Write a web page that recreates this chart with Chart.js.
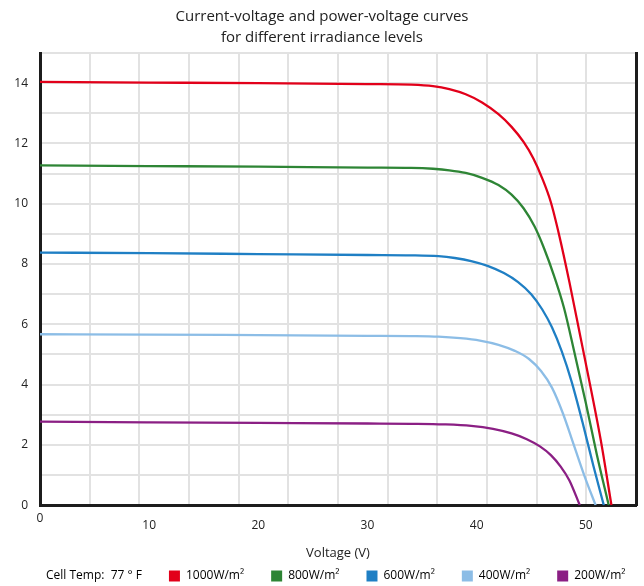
<!DOCTYPE html>
<html>
<head>
<meta charset="utf-8">
<script src="https://cdn.jsdelivr.net/npm/chart.js@4.4.1/dist/chart.umd.min.js"></script>
<style>
html,body{margin:0;padding:0;background:#fff;}
#wrap{width:644px;height:586px;}
</style>
</head>
<body>
<div id="wrap"><canvas id="c" width="644" height="586"></canvas></div>
<script>
// ---- data ----
const titleLines = ['Current-voltage and power-voltage curves', 'for different irradiance levels'];
const xTitle = 'Voltage (V)';
const cellTempLabel = 'Cell Temp:  77 ° F';
const seriesLabels = ['1000W/m²', '800W/m²', '600W/m²', '400W/m²', '200W/m²'];
const seriesColors = ['#e2001a', '#2e8535', '#1f7fc4', '#8cbde6', '#8b1f84'];

const v1000 = [0, 10, 20, 30, 34, 36, 37.5, 39, 40.5, 42, 43.2, 44.3, 45.2, 46.0, 46.8, 47.6, 48.5, 49.5, 50.5, 51.4, 52.35];
const i1000 = [14.04, 14.02, 14.0, 13.97, 13.95, 13.9, 13.8, 13.63, 13.36, 12.97, 12.55, 12.05, 11.5, 10.85, 10.05, 8.9, 7.4, 5.6, 3.8, 2.1, 0];

const v800 = [0, 10, 20, 30, 34, 36, 37.5, 39, 40.5, 42, 43.2, 44.3, 45.3, 46.2, 47.1, 48.0, 49.0, 50.0, 51.0, 52.1];
const i800 = [11.27, 11.25, 11.23, 11.2, 11.19, 11.16, 11.11, 11.02, 10.86, 10.62, 10.3, 9.85, 9.25, 8.5, 7.6, 6.55, 5.0, 3.4, 1.7, 0];

const v600 = [0, 10, 20, 30, 34, 36.5, 38, 39.5, 41, 42.5, 43.8, 45.0, 46.0, 46.9, 47.8, 48.7, 49.7, 50.7, 51.65];
const i600 = [8.38, 8.36, 8.33, 8.3, 8.29, 8.26, 8.2, 8.1, 7.94, 7.7, 7.4, 7.0, 6.5, 5.9, 5.1, 4.1, 2.75, 1.3, 0];

const v400 = [0, 10, 20, 30, 34, 36.5, 38.5, 40.3, 42, 43.5, 44.8, 45.9, 46.9, 47.9, 48.9, 49.9, 50.9];
const i400 = [5.67, 5.66, 5.64, 5.62, 5.61, 5.59, 5.54, 5.46, 5.32, 5.12, 4.85, 4.45, 3.9, 3.05, 2.0, 0.95, 0];

const v200 = [0, 10, 20, 30, 34, 37, 39.5, 41.5, 43.2, 44.6, 45.8, 46.8, 47.7, 48.5, 49.45];
const i200 = [2.77, 2.75, 2.73, 2.71, 2.70, 2.68, 2.63, 2.53, 2.38, 2.19, 1.95, 1.66, 1.28, 0.82, 0];

const xTicks = [0, 10, 20, 30, 40, 50];
const yTicks = [0, 2, 4, 6, 8, 10, 12, 14];
const xMin = 0, xMax = 54.6, yMin = 0, yMax = 15;

// ---- build ----
const voltages = [v1000, v800, v600, v400, v200];
const currents = [i1000, i800, i600, i400, i200];
const FONT = '"Open Sans", "Noto Sans", sans-serif';
const TXT = '#222';
const GRID = '#e2e2e2';
const AXIS = '#1c1c1c';

const datasets = seriesLabels.map((lab, k) => ({
  label: lab,
  data: voltages[k].map((v, j) => ({x: v, y: currents[k][j]})),
  borderColor: seriesColors[k],
  backgroundColor: seriesColors[k],
  borderWidth: 2.3,
  pointRadius: 0,
  fill: false,
  cubicInterpolationMode: 'monotone',
  xAxisID: 'x',
  yAxisID: 'y'
}));

const lead = '\u2002\u2002\u2002\u2009';
const trail = '\u2002\u2002\u2002';

new Chart(document.getElementById('c'), {
  type: 'line',
  data: { datasets },
  options: {
    responsive: false,
    animation: false,
    devicePixelRatio: 1,
    layout: { padding: { left: 0, right: 0, top: 0, bottom: -6 } },
    plugins: {
      tooltip: { enabled: false },
      title: {
        display: true,
        text: titleLines,
        color: TXT,
        font: { family: FONT, size: 15, weight: 'normal', lineHeight: 1.4 },
        padding: { top: 6, bottom: 5 }
      },
      legend: {
        display: true,
        position: 'bottom',
        align: 'start',
        labels: {
          color: TXT,
          font: { family: FONT, size: 12 },
          boxWidth: 11,
          boxHeight: 11,
          padding: 9,
          generateLabels: (chart) => {
            const items = [{
              text: lead + cellTempLabel + trail,
              fillStyle: 'rgba(0,0,0,0)',
              strokeStyle: 'rgba(0,0,0,0)',
              lineWidth: 0,
              hidden: false,
              datasetIndex: -1
            }];
            chart.data.datasets.forEach((ds, i) => {
              items.push({
                text: ds.label + (i < chart.data.datasets.length - 1 ? trail : ''),
                fillStyle: ds.borderColor,
                strokeStyle: ds.borderColor,
                lineWidth: 0,
                hidden: false,
                datasetIndex: i
              });
            });
            return items;
          }
        },
        onClick: () => {}
      }
    },
    scales: {
      x: {
        type: 'linear',
        position: 'bottom',
        min: xMin,
        max: xMax,
        grid: { display: false, drawTicks: false },
        border: { display: true, color: AXIS, width: 3 },
        afterBuildTicks: (scale) => { scale.ticks = xTicks.map(v => ({value: v})); },
        ticks: {
          padding: 6,
          color: TXT,
          maxRotation: 0,
          autoSkip: false,
          font: (ctx) => ({ family: FONT, size: 12, lineHeight: (ctx.tick && ctx.tick.value === 0) ? 1.2 : 2.35 })
        },
        title: {
          display: true,
          text: xTitle,
          color: TXT,
          font: { family: FONT, size: 13 },
          padding: { top: 0, bottom: 0 }
        }
      },
      xg: {
        type: 'linear',
        position: 'top',
        min: xMin,
        max: xMax,
        grid: { display: true, color: GRID, lineWidth: 2, drawTicks: false },
        border: { display: false },
        ticks: { display: false, stepSize: 4.55 }
      },
      y: {
        type: 'linear',
        position: 'left',
        min: yMin,
        max: yMax,
        grid: { display: true, color: GRID, lineWidth: 2, drawTicks: false },
        border: { display: true, color: AXIS, width: 3 },
        afterFit: (scale) => { scale.width = 40; },
        ticks: {
          stepSize: 1,
          padding: 12,
          color: TXT,
          autoSkip: false,
          font: { family: FONT, size: 12 },
          callback: (v) => (yTicks.includes(v) ? String(v) : '')
        }
      },
      yr: {
        type: 'linear',
        position: 'right',
        min: yMin,
        max: yMax,
        grid: { display: false, drawTicks: false },
        border: { display: true, color: AXIS, width: 3 },
        ticks: { display: false },
        afterFit: (scale) => { scale.width = 8; }
      }
    }
  }
});
</script>
</body>
</html>
